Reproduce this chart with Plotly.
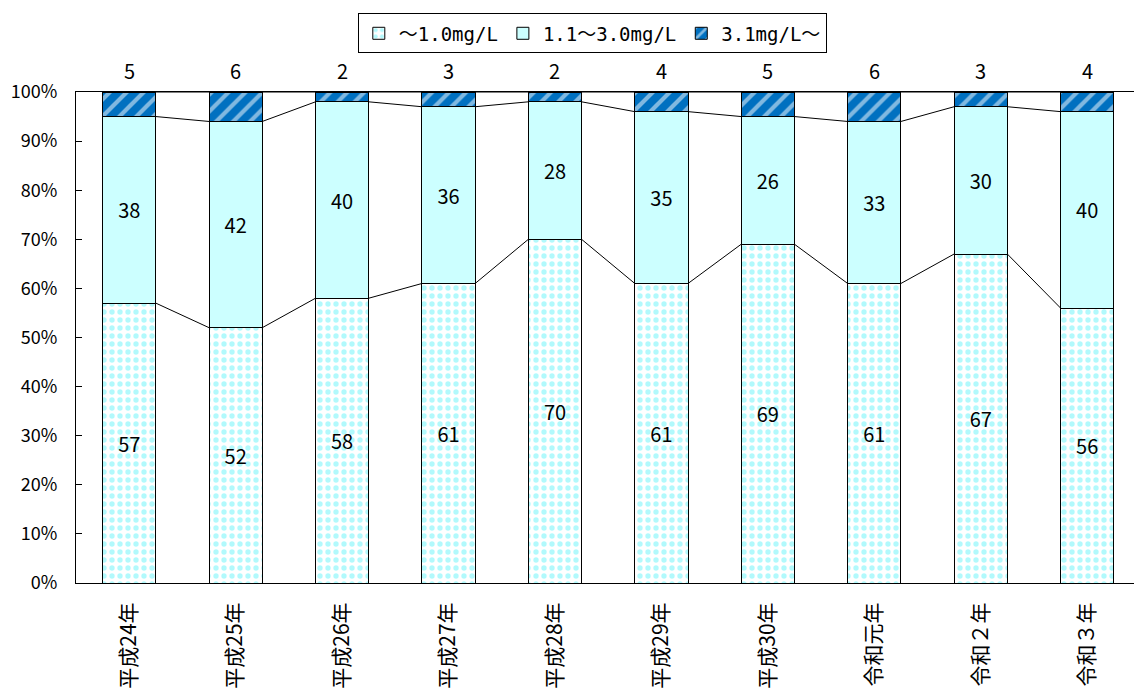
import plotly.graph_objects as go

# Survey years and counts per concentration band
years = ["平成24年", "平成25年", "平成26年", "平成27年", "平成28年",
         "平成29年", "平成30年", "令和元年", "令和２年", "令和３年"]
low = [57, 52, 58, 61, 70, 61, 69, 61, 67, 56]      # ～1.0mg/L
mid = [38, 42, 40, 36, 28, 35, 26, 33, 30, 40]      # 1.1～3.0mg/L
high = [5, 6, 2, 3, 2, 4, 5, 6, 3, 4]               # 3.1mg/L～
series_names = ["～1.0mg/L", "1.1～3.0mg/L", "3.1mg/L～"]

FONT = "Noto Sans CJK JP, DejaVu Sans, sans-serif"
BAR_W = 0.5

totals = [a + b + c for a, b, c in zip(low, mid, high)]
pct_low = [a / t * 100 for a, t in zip(low, totals)]
pct_mid = [b / t * 100 for b, t in zip(mid, totals)]
pct_high = [c / t * 100 for c, t in zip(high, totals)]
xs = list(range(len(years)))

fig = go.Figure()

fig.add_trace(go.Bar(
    x=xs, y=pct_low, name=series_names[0], width=BAR_W,
    text=[str(v) for v in low], textposition="inside",
    insidetextanchor="middle", textangle=0, constraintext="none",
    textfont=dict(family=FONT, size=20, color="black"),
    marker=dict(color="#FFFFFF", line=dict(color="black", width=1),
                pattern=dict(shape=".", fgcolor="#66F4FA", bgcolor="#FFFFFF",
                             size=8, solidity=0.35)),
))
fig.add_trace(go.Bar(
    x=xs, y=pct_mid, name=series_names[1], width=BAR_W,
    text=[str(v) for v in mid], textposition="inside",
    insidetextanchor="middle", textangle=0, constraintext="none",
    textfont=dict(family=FONT, size=20, color="black"),
    marker=dict(color="#CCFFFF", line=dict(color="black", width=1)),
))
fig.add_trace(go.Bar(
    x=xs, y=pct_high, name=series_names[2], width=BAR_W,
    marker=dict(color="#0070C0", line=dict(color="black", width=1),
                pattern=dict(shape="/", fgcolor="#FFFFFF", bgcolor="#0070C0",
                             size=12, solidity=0.35)),
))

# Series lines joining the segment boundaries of neighbouring bars
cum1 = pct_low
cum2 = [a + b for a, b in zip(pct_low, pct_mid)]
cum3 = [a + b + c for a, b, c in zip(pct_low, pct_mid, pct_high)]
lx, ly = [], []
for cum in (cum1, cum2, cum3):
    for i in range(len(xs) - 1):
        lx += [xs[i] + BAR_W / 2, xs[i + 1] - BAR_W / 2, None]
        ly += [cum[i], cum[i + 1], None]
fig.add_trace(go.Scatter(x=lx, y=ly, mode="lines", showlegend=False,
                         hoverinfo="skip", line=dict(color="black", width=1)))

# Counts of the top band shown above each bar
for i, v in enumerate(high):
    fig.add_annotation(x=xs[i], y=cum3[i], text=str(v), showarrow=False,
                       yanchor="bottom", yshift=5,
                       font=dict(family=FONT, size=20, color="black"))

fig.update_layout(
    barmode="stack",
    width=1134, height=695,
    margin=dict(l=76, r=0, t=92, b=112),
    plot_bgcolor="white", paper_bgcolor="white",
    font=dict(family=FONT, color="black"),
    legend=dict(orientation="h", x=0.488, xanchor="center", y=1.16, yanchor="top",
                traceorder="normal",
                bordercolor="black", borderwidth=1, bgcolor="white",
                font=dict(family="DejaVu Sans Mono, Noto Sans CJK JP, monospace", size=19),
                itemwidth=30, tracegroupgap=0),
    xaxis=dict(range=[-0.5, 9.44], tickvals=xs, ticktext=years, tickangle=-90,
               showline=True, linecolor="black", linewidth=1, mirror=True,
               ticks="", showgrid=False, zeroline=False,
               ticklabelstandoff=10,
               tickfont=dict(family=FONT, size=21, color="black")),
    yaxis=dict(range=[0, 100], dtick=10, ticksuffix="%",
               showline=True, linecolor="black", linewidth=1,
               ticks="inside", ticklen=6, tickcolor="black",
               showgrid=False, zeroline=False, ticklabelstandoff=14,
               tickfont=dict(family=FONT, size=18, color="black")),
)

fig.write_html("out.html")
